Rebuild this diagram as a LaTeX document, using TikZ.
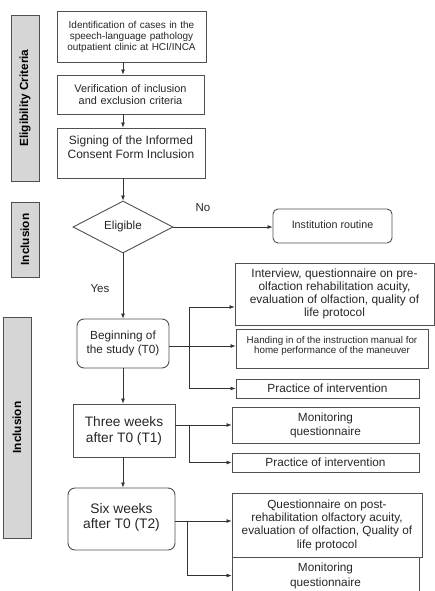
\documentclass[tikz,border=0pt]{standalone}
\usepackage{fontspec}
\setmainfont{Liberation Sans}
\usetikzlibrary{shapes.geometric,arrows.meta}
\definecolor{edge}{HTML}{505050}
\definecolor{barfill}{HTML}{D6D6D6}
\tikzset{
  box/.style={draw=edge, line width=0.9pt, inner sep=0pt, align=center, text=black!85},
  rbox/.style={box, rounded corners=7pt},
  bar/.style={draw=edge, line width=0.9pt, fill=barfill, inner sep=0pt, rotate=90, font=\bfseries\fontsize{11.8}{13}\selectfont},
  arr/.style={draw=black!80, line width=0.7pt, -{Latex[length=5pt,width=4pt]}},
  ln/.style={draw=black!80, line width=0.7pt},
  lab/.style={inner sep=0pt, font=\fontsize{11.5}{13}\selectfont, text=black!85}
}
\begin{document}
\begin{tikzpicture}[x=1pt,y=-1pt]
\useasboundingbox (0,0) rectangle (435,591);
% side bars
\node[bar, minimum width=166, minimum height=28] (barE) at (25,98) {Eligibility Criteria};
\node[bar, minimum width=75, minimum height=28] (barI) at (25,239.5) {Inclusion};
\node[bar, minimum width=221, minimum height=28] (barI2) at (17,427.5) {Inclusion};
% eligibility boxes
\node[box, minimum width=149, minimum height=51, text width=146, font=\fontsize{10}{11}\selectfont] (b1) at (131.5,36.5) {Identification of cases in the speech-language pathology outpatient clinic at HCI/INCA};
\node[box, minimum width=147, minimum height=39, text width=144, font=\fontsize{10.9}{12}\selectfont] (b2) at (130.5,94.5) {Verification of inclusion\\and exclusion criteria};
\node[box, minimum width=148, minimum height=50, label={[anchor=north, yshift=-5pt, align=center, font=\fontsize{12}{14}\selectfont, text=black!85]north:Signing of the Informed\\Consent Form Inclusion}] (b3) at (131,153) {};
% decision
\node[box, diamond, aspect=1.92, minimum width=100, minimum height=52, font=\fontsize{11.7}{13}\selectfont] (dia) at (123,227) {\raisebox{4pt}{Eligible}};
\node[rbox, rounded corners=5pt, minimum width=119, minimum height=34, font=\fontsize{10.7}{12}\selectfont] (inst) at (332.5,226) {\raisebox{3pt}{Institution routine}};
% timeline
\node[rbox, minimum width=92, minimum height=49, font=\fontsize{11.8}{13.5}\selectfont] (begin) at (123,343.5) {Beginning of\\the study (T0)};
\node[box, minimum width=102, minimum height=53, font=\fontsize{13.7}{16}\selectfont] (three) at (124,430.5) {Three weeks\\after T0 (T1)};
\node[rbox, minimum width=107, minimum height=62, font=\fontsize{13.8}{16.5}\selectfont] (six) at (121.5,519) {\raisebox{6pt}{\shortstack{Six weeks\\[2pt]after T0 (T2)}}};
% right boxes
\node[box, minimum width=199, minimum height=62, font=\fontsize{11.9}{13}\selectfont] (interv) at (334.5,294) {Interview, questionnaire on pre-\\olfaction rehabilitation acuity,\\evaluation of olfaction, quality of\\life protocol};
\node[box, minimum width=192, minimum height=39, label={[anchor=north, yshift=-4pt, align=center, font=\fontsize{9.8}{10.5}\selectfont, text=black!85]north:Handing in of the instruction manual for\\home performance of the maneuver}] (hand) at (332,348.5) {};
\node[box, minimum width=183, minimum height=19, font=\fontsize{11.8}{13}\selectfont] (prac1) at (327.5,388.5) {Practice of intervention};
\node[box, minimum width=187, minimum height=36, font=\fontsize{11.8}{14}\selectfont] (mon1) at (325.5,425) {Monitoring\\questionnaire};
\node[box, minimum width=187, minimum height=19, font=\fontsize{11.8}{13}\selectfont] (prac2) at (325.5,462.5) {Practice of intervention};
\node[box, minimum width=190, minimum height=64, font=\fontsize{11.8}{13.3}\selectfont] (qpost) at (327,525) {Questionnaire on post-\\rehabilitation olfactory acuity,\\evaluation of olfaction, Quality of\\life protocol};
\node[box, minimum width=187, minimum height=37, font=\fontsize{11.8}{15}\selectfont] (mon2) at (325.5,575.5) {Monitoring\\questionnaire};
% labels
\node[lab] (no) at (203,208) {No};
\node[lab] (yes) at (100,289) {Yes};
% connectors
\draw[arr] (b1.south -| dia.north) -- (b2.north -| dia.north);
\draw[arr] (b2.south -| dia.north) -- (b3.north -| dia.north);
\draw[arr] (b3.south -| dia.north) -- (dia.north);
\draw[arr] (dia.east) -- (inst.west |- dia.east);
\draw[arr] (dia.south) -- (begin.north -| dia.south);
\draw[arr] (begin.south -| dia.south) -- (three.north -| dia.south);
\draw[arr] (three.south -| dia.south) -- (six.north -| dia.south);
% branches from T0
\coordinate (jb) at (189,346);
\coordinate (jbt) at (189,307);
\draw[arr] (begin.east |- jb) -- (hand.west |- jb);
\draw[arr] (jb) -- (jbt) -- (interv.west |- jbt);
\draw[arr] (jb) |- (prac1.west);
% branches from T1
\coordinate (jt) at (189,425);
\draw[arr] (three.east |- mon1.west) -- (mon1.west);
\draw[arr] (jt) |- (prac2.west);
% branches from T2
\coordinate (js) at (187,521);
\draw[arr] (six.east |- js) -- (qpost.west |- js);
\draw[arr] (js) |- (mon2.west);
\end{tikzpicture}
\end{document}
